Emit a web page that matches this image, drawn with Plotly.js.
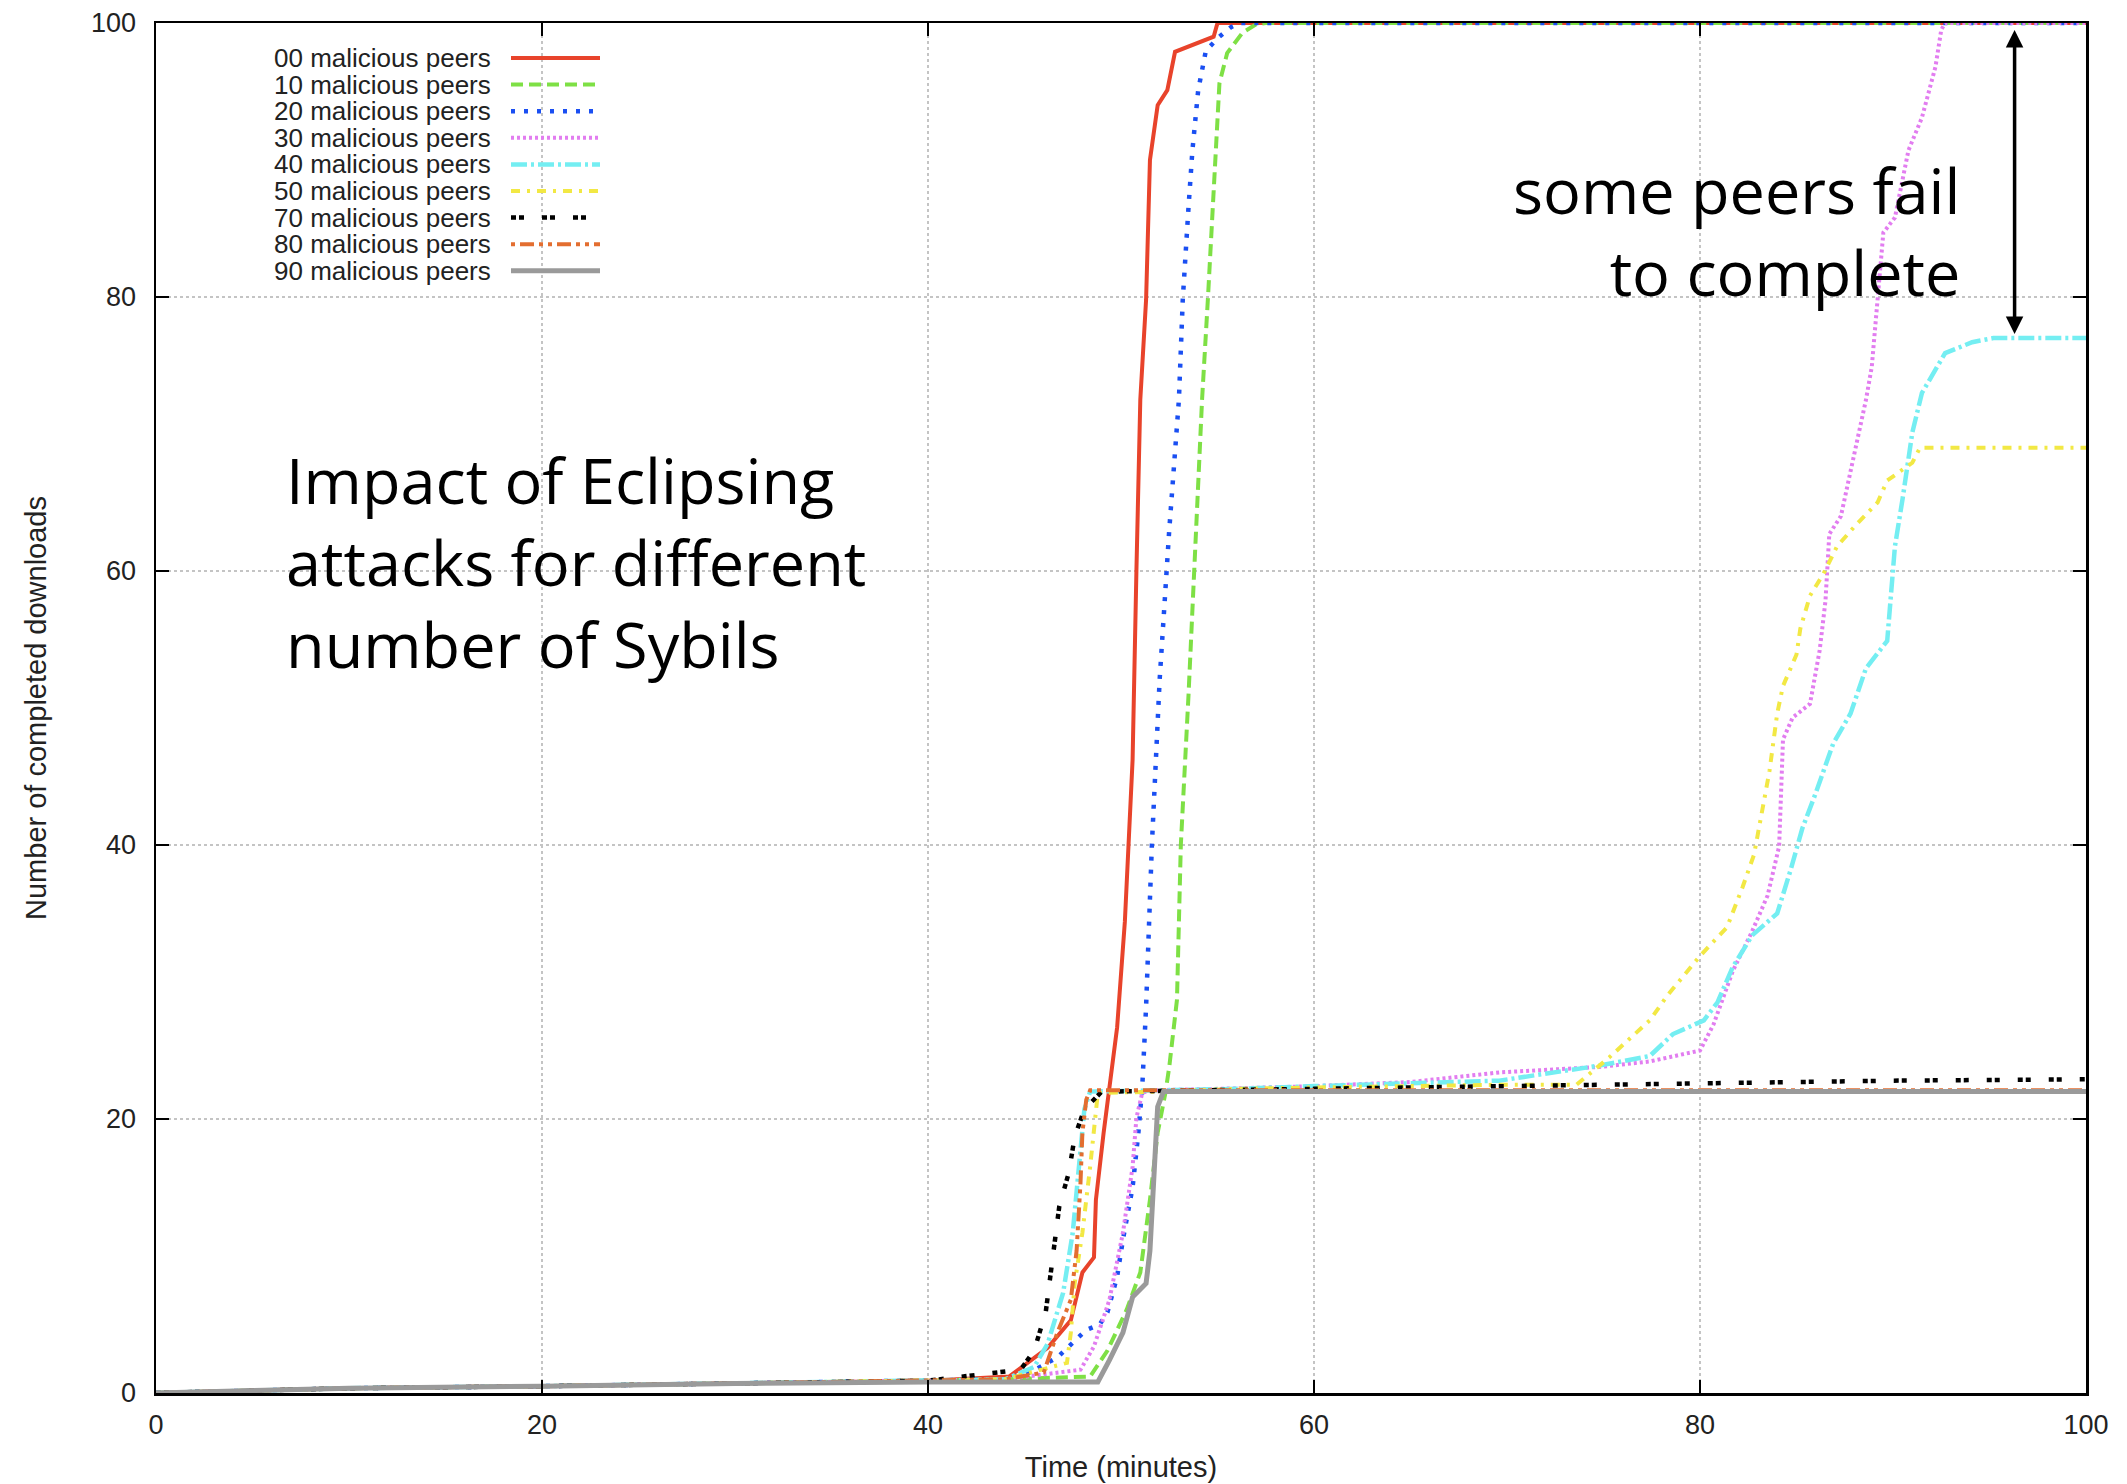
<!DOCTYPE html>
<html>
<head>
<meta charset="utf-8">
<script src="https://cdn.plot.ly/plotly-3.0.1.min.js"></script>
<style>html,body{margin:0;padding:0;background:#fff;}#chart{width:2127px;height:1484px;}</style>
</head>
<body>
<div id="chart"></div>
<script>
// ---- data (Time in minutes, number of completed downloads) ----
const seriesNames = ["00 malicious peers","10 malicious peers","20 malicious peers","30 malicious peers","40 malicious peers","50 malicious peers","70 malicious peers","80 malicious peers","90 malicious peers"];

const x00 = [0,5,10,20,30,40,44.2,46.2,47.4,48.0,48.6,48.7,49.1,49.4,49.8,50.2,50.6,50.8,51.0,51.3,51.5,51.9,52.4,52.8,54.8,55.0,100];
const y00 = [0,0.2,0.35,0.5,0.7,0.9,1.2,3.3,5.3,8.8,9.9,14.1,19.0,22.3,26.7,34.4,46.2,60.1,72.5,79.8,90.0,94.0,95.1,97.9,99.0,100,100];

const x10 = [0,5,10,20,30,40,44,48.4,49.3,50.3,51.0,51.5,51.9,52.3,52.5,52.9,53.1,53.5,53.9,54.2,54.5,54.8,55.0,55.1,55.5,56.3,57.0,57.5,100];
const y10 = [0,0.2,0.35,0.5,0.7,0.9,1.0,1.2,3.1,6.1,8.8,14.1,19.0,21.9,23.8,28.7,40,51,63,72.5,79.8,87.1,92.0,95.6,97.8,99.3,99.9,100,100];

const x20 = [0,5,10,20,30,40,44,45.3,46.7,48.2,48.9,49.3,49.8,50.1,50.6,50.9,51.1,51.3,51.6,52.0,52.5,53.0,53.2,53.5,53.7,54.0,54.4,55.1,55.7,56.2,100];
const y20 = [0,0.2,0.35,0.5,0.7,0.9,1.0,1.5,2.6,4.6,5.0,5.9,8.5,11.2,15.0,19.0,22.3,28.2,40,52,63,72.5,79.8,86.6,90.7,95.1,98.0,99.0,99.7,100,100];

const x30 = [0,5,10,20,30,40,44,47.9,48.6,49.4,50.1,50.6,50.8,51.1,51.5,55,60,65,69.6,74.8,77.4,80.0,80.7,81.7,82.7,83.5,84.1,84.3,84.8,85.7,86.2,86.5,86.7,87.3,87.9,88.6,88.9,89.2,89.5,90.1,90.8,91.5,92.2,92.5,92.7,100];
const y30 = [0,0.2,0.35,0.5,0.7,0.9,1.0,1.7,3.4,6.8,11.7,16.5,20.1,21.9,22.1,22.2,22.4,22.7,23.4,23.8,24.2,25.0,26.9,30.8,33.7,36.3,39.9,47.7,49.3,50.3,54.2,57.8,62.7,64.0,67.9,72.5,74.9,79.8,84.7,85.8,90.7,93.1,96.8,99.5,100,100];

const x40 = [0,5,10,20,30,40,44,45.5,46.2,47.0,47.5,47.9,48.1,48.4,52,56,60,65,69.6,74.8,77.4,78.6,80.2,80.9,81.7,82.7,84.0,84.7,85.3,86.0,86.9,87.8,88.6,89.7,89.9,90.1,90.5,91.0,91.5,92.7,94.1,95.2,100];
const y40 = [0,0.2,0.35,0.5,0.7,0.9,1.0,1.9,3.6,7.3,11.7,17.7,20.7,22.0,22.1,22.2,22.4,22.6,22.8,23.9,24.6,26.2,27.2,28.5,31.1,33.4,35.0,38.2,41.2,43.8,47.4,49.6,52.9,54.9,58.2,61.8,65.3,70.1,73.0,75.9,76.7,77.0,77.0];

const x50 = [0,5,10,20,30,40,44,47.2,47.4,47.6,48.0,48.4,48.7,48.8,52,56,60,65,69.6,73.6,75.3,77.4,78.3,80.0,81.4,82.2,82.8,83.3,83.6,84.0,84.3,85.0,85.2,85.7,86.4,87.1,88.1,89.2,89.7,91.0,91.4,100];
const y50 = [0,0.2,0.35,0.5,0.7,0.9,1.0,2.2,4.4,8.0,11.7,16.5,20.1,21.9,22.0,22.2,22.3,22.4,22.5,22.5,24.5,27.2,29.0,31.9,34.0,36.9,39.3,43.1,45.4,49.6,51.6,53.9,55.8,58.2,59.8,61.8,63.4,65.0,66.6,67.9,69.0,69.0];

const x70 = [0,5,10,20,30,40,44.8,45.5,46.1,46.3,46.6,46.8,47.3,47.6,48.1,48.6,49.0,60,70,80,90,100];
const y70 = [0,0.2,0.35,0.5,0.7,0.9,1.7,3.1,5.9,8.2,11.2,13.6,16.1,18.7,20.7,21.4,22.0,22.2,22.4,22.6,22.8,22.9];

const x80 = [0,5,10,20,30,40,44,46.0,46.7,47.4,47.7,47.9,48.0,48.2,48.4,100];
const y80 = [0,0.2,0.35,0.5,0.7,0.9,1.0,1.5,4.4,6.8,10.4,15.3,19.0,21.4,22.1,22.1];

const x90 = [0,5,10,20,30,40,48.8,49.4,50.1,50.6,51.3,51.5,51.7,51.9,52.2,100];
const y90 = [0,0.2,0.35,0.5,0.7,0.8,0.8,2.4,4.4,7.0,8.0,10.4,16.5,20.9,22.0,22.0];

const xTicks = [0,20,40,60,80,100];
const yTicks = [0,20,40,60,80,100];

// ---- styles ----
const xs = [x00,x10,x20,x30,x40,x50,x70,x80,x90];
const ys = [y00,y10,y20,y30,y40,y50,y70,y80,y90];
const colors = ["#e8432b","#7ee045","#1a4ff2","#e27df0","#74eef2","#f2e844","#000000","#e36e30","#9a9a9a"];
const dashes = ["solid","12px,6px","4px,9px","3px,3px","16px,4px,3px,4px","9px,7px,3px,7px","5px,3px,5px,18px","4px,5px,14px,5px,4px,5px","solid"];
const widths = [4,4,4.5,4,4.5,4,4.5,4,5];

const traces = xs.map((x,i)=>({
  type:"scatter", mode:"lines", x:x, y:ys[i], name:seriesNames[i],
  line:{color:colors[i], dash:dashes[i], width:widths[i]},
  showlegend:false, hoverinfo:"x+y+name"
}));

// manual gnuplot-style key (text right, sample after)
const W = 2127, H = 1484, mL = 156, mR = 41, mT = 23, mB = 91;
const pw = W-mL-mR, ph = H-mT-mB;
const px = v => (v-mL)/pw;
const py = v => (H-mB-v)/ph;
const shapes = [], annotations = [];
const FONT = "Liberation Sans, Arial, sans-serif";
seriesNames.forEach((nm,i)=>{
  const rowY = 58 + 26.6*i;
  annotations.push({xref:"paper",yref:"paper",x:px(493),y:py(rowY),text:nm,showarrow:false,
    xanchor:"right",yanchor:"middle",font:{family:FONT,size:26,color:"#222"}});
  shapes.push({type:"line",xref:"paper",yref:"paper",x0:px(511),x1:px(600),y0:py(rowY),y1:py(rowY),
    line:{color:colors[i],dash:dashes[i],width:widths[i]}});
});

annotations.push({xref:"paper",yref:"paper",x:px(284),y:py(561),text:"Impact of Eclipsing<br>attacks for different<br>number of Sybils",
  showarrow:false,xanchor:"left",yanchor:"middle",align:"left",font:{family:"Open Sans, sans-serif",size:63,color:"#000"}});
annotations.push({xref:"paper",yref:"paper",x:px(1962),y:py(230),text:"some peers fail<br>to complete",
  showarrow:false,xanchor:"right",yanchor:"middle",align:"right",font:{family:"Open Sans, sans-serif",size:63,color:"#000"}});
// double-headed arrow from the 40-peer plateau up to 100
annotations.push({xref:"x",yref:"y",x:96.3,y:y40[y40.length-1]+0.3,axref:"x",ayref:"y",ax:96.3,ay:99.6,text:"",
  showarrow:true,arrowhead:2,arrowside:"end+start",arrowsize:1,arrowwidth:3.5,arrowcolor:"#000",standoff:0,startstandoff:0});

const axisCommon = {
  showline:true, linecolor:"#000", linewidth:2.5, mirror:"ticks",
  ticks:"inside", ticklen:13, tickwidth:2, tickcolor:"#000",
  showgrid:true, gridcolor:"#c4c4c4", griddash:"dot", gridwidth:1.5,
  zeroline:false, tickfont:{family:FONT, size:27, color:"#222"}
};

const layout = {
  width:W, height:H, paper_bgcolor:"#fff", plot_bgcolor:"#fff",
  margin:{l:mL, r:mR, t:mT, b:mB},
  showlegend:false,
  xaxis:Object.assign({}, axisCommon, {range:[0,100], tickvals:xTicks, ticktext:xTicks.map(String), ticklabelstandoff:6,
    title:{text:"Time (minutes)", font:{family:FONT, size:29, color:"#222"}, standoff:18}}),
  yaxis:Object.assign({}, axisCommon, {range:[0,100], tickvals:yTicks, ticktext:yTicks.map(String), ticklabelstandoff:12,
    title:{text:"Number of completed downloads", font:{family:FONT, size:29, color:"#222"}, standoff:36}}),
  shapes:shapes, annotations:annotations
};

Plotly.newPlot("chart", traces, layout, {displayModeBar:false, staticPlot:true});
</script>
</body>
</html>
